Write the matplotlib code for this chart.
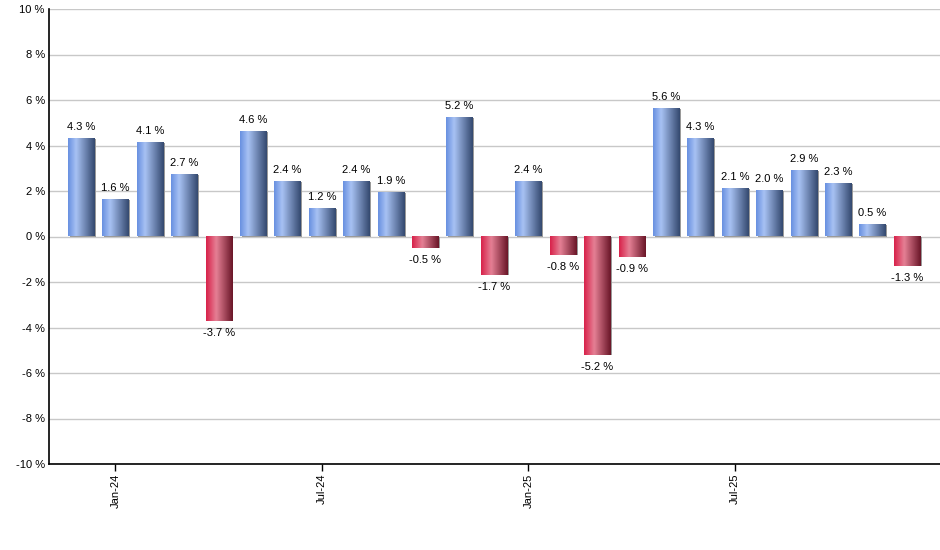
import numpy as np
import matplotlib
matplotlib.use('Agg')
import matplotlib.pyplot as plt
from matplotlib.colors import LinearSegmentedColormap
from matplotlib.patches import Rectangle

plt.rcParams['font.family'] = ['Liberation Sans', 'DejaVu Sans']

months = ['Dec-23', 'Jan-24', 'Feb-24', 'Mar-24', 'Apr-24', 'May-24', 'Jun-24',
          'Jul-24', 'Aug-24', 'Sep-24', 'Oct-24', 'Nov-24', 'Dec-24', 'Jan-25',
          'Feb-25', 'Mar-25', 'Apr-25', 'May-25', 'Jun-25', 'Jul-25', 'Aug-25',
          'Sep-25', 'Oct-25', 'Nov-25', 'Dec-25']
returns = [4.3, 1.6, 4.1, 2.7, -3.7, 4.6, 2.4, 1.2, 2.4, 1.9, -0.5, 5.2, -1.7,
           2.4, -0.8, -5.2, -0.9, 5.6, 4.3, 2.1, 2.0, 2.9, 2.3, 0.5, -1.3]
tick_months = ['Jan-24', 'Jul-24', 'Jan-25', 'Jul-25']
yticks = [-10, -8, -6, -4, -2, 0, 2, 4, 6, 8, 10]

blue = LinearSegmentedColormap.from_list('b', [(0, '#6890e0'), (0.3, '#a8c2f4'),
                                               (1, '#34496f')])
red = LinearSegmentedColormap.from_list('r', [(0, '#d8224a'), (0.38, '#e58095'),
                                              (1, '#6a1628')])
grad = np.linspace(0, 1, 64).reshape(1, -1)

fig = plt.figure(figsize=(9.4, 5.5), dpi=100)
ax = fig.add_axes([49/940, 1-464/550, 1-49/940, (464-9)/550])

x = np.arange(len(returns))
w = 0.76
for xi, v in zip(x, returns):
    y0, y1 = min(0, v), max(0, v)
    # shadow
    ax.add_patch(Rectangle((xi - w/2 + 0.05, y0), w, y1 - y0, color='#9a9a9a',
                           zorder=2, lw=0))
    ax.imshow(grad, cmap=blue if v >= 0 else red, aspect='auto',
              extent=(xi - w/2, xi + w/2, y0, y1), zorder=3, interpolation='bicubic')
    if v >= 0:
        ax.text(xi, v + 0.3, f'{v:.1f} %', ha='center', va='bottom', fontsize=8)
    else:
        ax.text(xi, v - 0.3, f'{v:.1f} %', ha='center', va='top', fontsize=8)

ax.set_xlim(-0.93, len(returns) - 0.04)
ax.set_ylim(-10, 10)
ax.set_yticks(yticks)
ax.set_yticklabels([f'{t} %' for t in yticks], fontsize=8)
ax.tick_params(axis='y', length=0, pad=3)
ax.set_xticks([months.index(m) for m in tick_months])
ax.set_xticklabels(tick_months, rotation=90, fontsize=8)
ax.tick_params(axis='x', length=5, width=1, color='black', pad=2)
ax.grid(axis='y', color='#c8c8c8', lw=1, zorder=0)
ax.set_axisbelow(True)
for s in ['top', 'right']:
    ax.spines[s].set_visible(False)
for s in ['left', 'bottom']:
    ax.spines[s].set_linewidth(1.2)

fig.savefig('out.png', dpi=100)
